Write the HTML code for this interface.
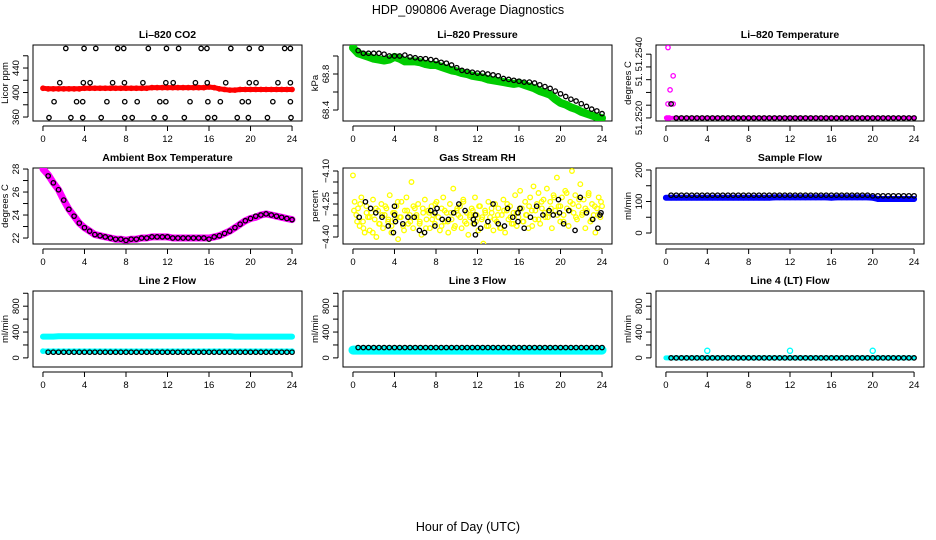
<!DOCTYPE html>
<html><head><meta charset="utf-8">
<style>
html,body{margin:0;padding:0;background:#fff;}
svg{display:block;font-family:"Liberation Sans",sans-serif;}
</style></head>
<body>
<svg id="chart" width="936" height="540" viewBox="0 0 936 540" xmlns="http://www.w3.org/2000/svg">
<text x="468" y="14" text-anchor="middle" font-size="12.5">HDP_090806  Average Diagnostics</text>
<text x="468" y="531" text-anchor="middle" font-size="12.5">Hour of Day (UTC)</text>
</svg>
<script>
// ---- data ----
const xTicks = [0,4,8,12,16,20,24];
const halfHours = [0,0.5,1,1.5,2,2.5,3,3.5,4,4.5,5,5.5,6,6.5,7,7.5,8,8.5,9,9.5,10,10.5,11,11.5,12,12.5,13,13.5,14,14.5,15,15.5,16,16.5,17,17.5,18,18.5,19,19.5,20,20.5,21,21.5,22,22.5,23,23.5,24];
const blackHours = [0.5,1,1.5,2,2.5,3,3.5,4,4.5,5,5.5,6,6.5,7,7.5,8,8.5,9,9.5,10,10.5,11,11.5,12,12.5,13,13.5,14,14.5,15,15.5,16,16.5,17,17.5,18,18.5,19,19.5,20,20.5,21,21.5,22,22.5,23,23.5,24];

const co2Red = [407,406,406,406,406,406,406,406,407,407,407,407,407,407,407,407,407,407,407,407,407,408,408,408,408,408,408,408,408,408,408,408,409,408,406,405,404,404,405,405,405,405,405,405,405,405,405,405,405];
const co2BlackHours = [2.2,3.96,5.09,7.2,7.78,10.15,11.9,13.07,15.24,15.8,18.1,19.88,21.02,23.29,23.84,
 1.62,3.89,4.54,6.71,7.85,9.63,11.84,12.55,14.69,15.83,17.61,19.88,20.53,22.64,23.84,
 1.07,3.24,3.83,6.16,7.88,9.08,11.26,11.84,14.17,15.89,17.09,19.2,19.79,22.15,23.84,
 0.58,2.69,3.83,5.61,7.88,8.6,10.7,11.77,13.62,15.89,16.54,18.72,19.79,21.63,23.9];
const co2BlackVals = [472,472,472,472,472,472,472,472,472,472,472,472,472,472,472,
 416,416,416,416,416,416,416,416,416,416,416,416,416,416,416,
 385,385,385,385,385,385,385,385,385,385,385,385,385,385,385,
 359,359,359,359,359,359,359,359,359,359,359,359,359,359,359];

const pressGreen = [69.09,69.03,69.01,68.99,68.97,68.96,68.95,68.96,68.99,68.97,68.94,68.94,68.94,68.93,68.91,68.90,68.90,68.88,68.86,68.84,68.83,68.81,68.80,68.78,68.77,68.76,68.74,68.73,68.72,68.71,68.70,68.69,68.70,68.68,68.66,68.64,68.61,68.59,68.57,68.52,68.48,68.46,68.43,68.41,68.38,68.36,68.34,68.32,68.31];
const pressBlack = [69.06,69.03,69.03,69.03,69.03,69.02,69.00,69.00,69.00,69.01,68.99,68.98,68.97,68.97,68.96,68.95,68.93,68.92,68.90,68.87,68.84,68.83,68.82,68.81,68.81,68.80,68.79,68.78,68.75,68.74,68.73,68.72,68.71,68.71,68.70,68.68,68.66,68.64,68.61,68.58,68.55,68.52,68.50,68.47,68.44,68.41,68.39,68.36];

const tempMag = [51.2520,51.2520,51.2520,51.2520,51.2520,51.2520,51.2520,51.2520,51.2520,51.2520,51.2520,51.2520,51.2520,51.2520,51.2520,51.2520,51.2520,51.2520,51.2520,51.2520,51.2520,51.2520,51.2520,51.2520,51.2520,51.2520,51.2520,51.2520,51.2520,51.2520,51.2520,51.2520,51.2520,51.2520,51.2520,51.2520,51.2520,51.2520,51.2520,51.2520,51.2520,51.2520,51.2520,51.2520,51.2520,51.2520,51.2520,51.2520,51.2520];
const tempOutHours = [0.2,0.7,0.4,0.2,0.5,0.7,0.1,0.3];
const tempOutVals = [51.25476,51.25365,51.2531,51.25255,51.25255,51.25255,51.2520,51.2520];
const tempBlack = [51.25255,51.2520,51.2520,51.2520,51.2520,51.2520,51.2520,51.2520,51.2520,51.2520,51.2520,51.2520,51.2520,51.2520,51.2520,51.2520,51.2520,51.2520,51.2520,51.2520,51.2520,51.2520,51.2520,51.2520,51.2520,51.2520,51.2520,51.2520,51.2520,51.2520,51.2520,51.2520,51.2520,51.2520,51.2520,51.2520,51.2520,51.2520,51.2520,51.2520,51.2520,51.2520,51.2520,51.2520,51.2520,51.2520,51.2520,51.2520];

const ambMag = [28.0,27.5,26.8,26.2,25.3,24.5,23.9,23.3,22.9,22.6,22.3,22.2,22.1,22.0,21.9,21.9,21.8,21.9,21.9,22.0,22.0,22.1,22.1,22.1,22.1,22.0,22.0,22.0,22.0,22.0,22.0,22.0,22.0,22.1,22.2,22.4,22.6,22.9,23.2,23.5,23.7,23.8,24.0,24.1,24.0,23.9,23.8,23.7,23.6];
const ambBlack = [27.4,26.8,26.2,25.3,24.5,23.9,23.3,22.9,22.6,22.3,22.2,22.1,22.0,21.9,21.9,21.8,21.9,21.9,22.0,22.0,22.1,22.1,22.1,22.1,22.0,22.0,22.0,22.0,22.0,22.0,22.0,21.9,22.1,22.2,22.4,22.6,22.9,23.2,23.5,23.7,23.9,24.0,24.1,24.0,23.9,23.8,23.7,23.6];

const rhYellow = [-4.12,-4.24,-4.30,-4.27,-4.35,-4.22,-4.33,-4.38,-4.26,-4.31,
-4.37,-4.29,-4.23,-4.32,-4.40,-4.28,-4.34,-4.25,-4.36,-4.30,
-4.27,-4.33,-4.21,-4.38,-4.29,-4.32,-4.26,-4.41,-4.31,-4.24,
-4.35,-4.28,-4.22,-4.34,-4.30,-4.15,-4.36,-4.27,-4.31,-4.25,
-4.33,-4.39,-4.29,-4.23,-4.32,-4.28,-4.36,-4.26,-4.30,-4.34,
-4.24,-4.31,-4.37,-4.27,-4.22,-4.33,-4.29,-4.38,-4.25,-4.32,
-4.18,-4.35,-4.28,-4.30,-4.26,-4.36,-4.23,-4.33,-4.29,-4.39,
-4.31,-4.27,-4.34,-4.22,-4.30,-4.37,-4.26,-4.32,-4.43,-4.28,
-4.35,-4.24,-4.31,-4.29,-4.37,-4.25,-4.33,-4.27,-4.36,-4.30,
-4.23,-4.38,-4.28,-4.32,-4.26,-4.34,-4.29,-4.21,-4.35,-4.31,
-4.19,-4.27,-4.33,-4.24,-4.30,-4.36,-4.22,-4.28,-4.17,-4.32,
-4.25,-4.20,-4.34,-4.27,-4.23,-4.31,-4.18,-4.29,-4.24,-4.36,
-4.21,-4.28,-4.13,-4.26,-4.33,-4.22,-4.30,-4.19,-4.27,-4.35,
-4.24,-4.10,-4.29,-4.21,-4.32,-4.26,-4.16,-4.30,-4.23,-4.36,
-4.28,-4.20,-4.33,-4.25,-4.30,-4.38,-4.27,-4.22,-4.31,-4.26];
const rhYellow2 = [-4.28,-4.33,-4.25,-4.36,-4.29,-4.31,-4.38,-4.27,-4.34,-4.30,
-4.26,-4.32,-4.35,-4.29,-4.24,-4.31,-4.37,-4.28,-4.33,-4.26,
-4.30,-4.34,-4.27,-4.36,-4.29,-4.32,-4.25,-4.31,-4.35,-4.28,
-4.33,-4.29,-4.36,-4.27,-4.31,-4.24,-4.34,-4.30,-4.28,-4.33,
-4.26,-4.31,-4.29,-4.35,-4.27,-4.32,-4.30,-4.36,-4.28,-4.25,
-4.31,-4.34,-4.29,-4.27,-4.33,-4.30,-4.26,-4.35,-4.28,-4.32,
-4.24,-4.29,-4.31,-4.27,-4.22,-4.30,-4.26,-4.33,-4.20,-4.28,
-4.25,-4.31,-4.23,-4.29,-4.27,-4.21,-4.32,-4.26,-4.30,-4.24];
const rhBlackHours = [0.6,1.2,1.7,2.2,2.8,3.4,3.9,4.0,4.0,4.1,4.8,5.3,5.9,6.4,6.9,7.5,7.9,7.9,8.1,8.6,9.2,9.7,10.2,10.8,11.6,11.7,11.8,11.8,12.3,13.0,13.5,14.0,14.6,14.9,15.4,15.9,15.9,16.1,16.5,17.1,17.7,18.3,18.9,19.3,19.8,19.9,20.3,20.8,21.4,21.9,22.5,23.1,23.6,23.8,23.9];
const rhBlackVals = [-4.31,-4.24,-4.27,-4.29,-4.31,-4.35,-4.38,-4.30,-4.26,-4.33,-4.34,-4.31,-4.31,-4.37,-4.38,-4.28,-4.35,-4.29,-4.27,-4.32,-4.32,-4.29,-4.25,-4.28,-4.32,-4.34,-4.39,-4.30,-4.36,-4.33,-4.25,-4.34,-4.35,-4.27,-4.31,-4.29,-4.33,-4.27,-4.36,-4.31,-4.26,-4.30,-4.28,-4.30,-4.23,-4.29,-4.34,-4.28,-4.37,-4.22,-4.29,-4.32,-4.36,-4.30,-4.29];

const sampleBlue = [112,112,112,112,112,112,112,112,112,112,112,112,112,112,112,112,112,112,112,112,112,113,113,113,113,113,113,113,113,113,113,113,112,113,113,113,113,113,113,113,112,108,108,108,108,108,108,108,108];
const sampleBlack = [120,120,120,120,120,120,120,120,120,120,120,120,120,120,120,120,120,120,120,120,120,120,120,120,120,120,120,120,120,120,120,120,120,120,120,120,120,120,120,118,118,118,118,118,118,118,118,118];

const line2High = [330,330,330,335,335,335,335,335,335,335,335,335,335,335,335,335,335,335,335,335,335,335,335,335,335,335,335,335,335,335,335,335,335,335,335,335,335,330,330,330,330,330,330,330,330,330,330,330,330];
const line2Low = [105,105,105,105,105,105,105,105,105,105,105,105,105,105,105,105,105,105,105,105,105,105,105,105,105,105,105,105,105,105,105,105,105,105,105,105,105,105,105,105,105,105,105,105,105,105,105,105,105];
const line2Black = [88,88,88,88,88,88,88,88,88,88,88,88,88,88,88,88,88,88,88,88,88,88,88,88,88,88,88,88,88,88,88,88,88,88,88,88,88,88,88,88,88,88,88,88,88,88,88,88];

const line3Cyan = [120,120,120,120,120,120,120,120,120,120,120,120,120,120,120,120,120,120,120,120,120,120,120,120,120,120,120,120,120,120,120,120,120,120,120,120,120,120,120,120,120,120,120,120,120,120,120,120,120];
const line3Black = [160,160,160,160,160,160,160,160,160,160,160,160,160,160,160,160,160,160,160,160,160,160,160,160,160,160,160,160,160,160,160,160,160,160,160,160,160,160,160,160,160,160,160,160,160,160,160,160];

const line4Cyan = [0,0,0,0,0,0,0,0,0,0,0,0,0,0,0,0,0,0,0,0,0,0,0,0,0,0,0,0,0,0,0,0,0,0,0,0,0,0,0,0,0,0,0,0,0,0,0,0,0];
const line4OutHours = [4,12,20];
const line4OutVals = [110,110,110];
const line4Black = [0,0,0,0,0,0,0,0,0,0,0,0,0,0,0,0,0,0,0,0,0,0,0,0,0,0,0,0,0,0,0,0,0,0,0,0,0,0,0,0,0,0,0,0,0,0,0,0];

const flowTicks = [0,200,400,600,800,1000];
const flowLabels = [0,400,800];

// ---- drawing ----
const svg = document.getElementById('chart');
const NS = 'http://www.w3.org/2000/svg';
function mk(tag, attrs, parent){
  const e = document.createElementNS(NS, tag);
  for (const k in attrs) e.setAttribute(k, attrs[k]);
  (parent||svg).appendChild(e);
  return e;
}
const colLeft = [33,343,656], colW = [269,269,268];
const rowTop = [45,168,291], boxH = 76;

function makePanel(name, col, row, title, ylab, yMin, yMax, yTicks, yLabels, yLabelText){
  const L = colLeft[col], T = rowTop[row], W = colW[col];
  const g = mk('g', {});
  
  
  const xs = v => L + W*(v + 0.96)/25.92;
  const ys = v => T + boxH - boxH*(v - yMin)/(yMax - yMin);
  const t = mk('text', {x: L + W/2, y: T - 7, 'text-anchor':'middle', 'font-size':10.5, 'font-weight':'bold'}, g);
  t.textContent = title;
  
  
  const box = mk('rect', {x:L, y:T, width:W, height:boxH, fill:'none', stroke:'#000', 'stroke-width':1}, g);
  
  
  const xa = mk('g', {}, g);
  
  
  mk('line', {x1:xs(0), x2:xs(24), y1:T+boxH+5, y2:T+boxH+5, stroke:'#000'}, xa);
  xTicks.forEach(v => {
    mk('line', {x1:xs(v), x2:xs(v), y1:T+boxH+5, y2:T+boxH+10, stroke:'#000'}, xa);
    const tl = mk('text', {x:xs(v), y:T+boxH+21, 'text-anchor':'middle', 'font-size':9.5}, xa);
    tl.textContent = v;
  });
  const ya = mk('g', {}, g);
  
  
  const ax = L - 5;
  mk('line', {x1:ax, x2:ax, y1:ys(yTicks[0]), y2:ys(yTicks[yTicks.length-1]), stroke:'#000'}, ya);
  yTicks.forEach(v => mk('line', {x1:ax-5, x2:ax, y1:ys(v), y2:ys(v), stroke:'#000'}, ya));
  yLabels.forEach((v,i) => {
    const yy = ys(v);
    const tl = mk('text', {x:L-14, y:yy, 'text-anchor':'middle', 'font-size':9.5, transform:`rotate(-90 ${L-14} ${yy})`}, ya);
    tl.textContent = yLabelText ? yLabelText[i] : v;
  });
  const yt = mk('text', {x:L-25, y:T+boxH/2, 'text-anchor':'middle', 'font-size':9.5, transform:`rotate(-90 ${L-25} ${T+boxH/2})`}, g);
  yt.textContent = ylab;
  
  
  const clipId = 'c' + name;
  const cp = mk('clipPath', {id:clipId}, g);
  mk('rect', {x:L, y:T, width:W, height:boxH}, cp);
  const marks = mk('g', {'clip-path':`url(#${clipId})`}, g);
  return {xs, ys, g: marks};
}
function band(p, name, hours, vals, color, width){
  const pts = hours.map((h,i) => p.xs(h).toFixed(1)+','+p.ys(vals[i]).toFixed(1)).join(' ');
  const pl = mk('polyline', {points:pts, fill:'none', stroke:color, 'stroke-width':width, 'stroke-linejoin':'round', 'stroke-linecap':'round'}, p.g);
  
  
}
function pts(p, name, hours, vals, color, r){
  const gg = mk('g', {}, p.g);
  
  
  hours.forEach((h,i) => {
    mk('circle', {cx:p.xs(h), cy:p.ys(vals[i]), r:r||2.2, fill:'none', stroke:color, 'stroke-width':1.3}, gg);
  });
}

// Panel 1: CO2
let p = makePanel('co2', 0, 0, 'Li\u2013820 CO2', 'Licor ppm', 353.5, 477.6, [360,380,400,420,440,460], [360,400,440]);
band(p, 'co2-red-band', halfHours, co2Red, '#ff0000', 5);
pts(p, 'co2-red-points', halfHours, co2Red, '#ff0000');
pts(p, 'co2-black-points', co2BlackHours, co2BlackVals, '#000');

// Panel 2: Pressure
p = makePanel('pressure', 1, 0, 'Li\u2013820 Pressure', 'kPa', 68.278, 69.122, [68.4,68.6,68.8,69.0], [68.4,68.8]);
band(p, 'pressure-green-band', halfHours, pressGreen, '#00cc00', 8);
pts(p, 'pressure-green-points', halfHours, pressGreen, '#00cc00');
pts(p, 'pressure-black-points', blackHours, pressBlack, '#000');

// Panel 3: Li-820 temperature
p = makePanel('li820-temp', 2, 0, 'Li\u2013820 Temperature', 'degrees C', 51.25188, 51.25486, [51.2520,51.2525,51.2530,51.2535,51.2540,51.2545], [51.2520,51.2535,51.2545], ['51.2520','51.','51.2540']);
band(p, 'li820-temp-magenta-band', halfHours, tempMag, '#ff00ff', 4);
pts(p, 'li820-temp-magenta-outliers', tempOutHours, tempOutVals, '#ff00ff');
pts(p, 'li820-temp-black-points', blackHours, tempBlack, '#000');

// Panel 4: Ambient box temperature
p = makePanel('ambient-temp', 0, 1, 'Ambient Box Temperature', 'degrees C', 21.48, 28.09, [22,23,24,25,26,27,28], [22,24,26,28]);
band(p, 'ambient-magenta-band', halfHours, ambMag, '#ff00ff', 7);
pts(p, 'ambient-magenta-points', halfHours, ambMag, '#ff00ff');
pts(p, 'ambient-black-points', blackHours, ambBlack, '#000');

// Panel 5: Gas stream RH
p = makePanel('gas-rh', 1, 1, 'Gas Stream RH', 'percent', -4.4318, -4.0864, [-4.40,-4.35,-4.30,-4.25,-4.20,-4.15,-4.10], [-4.40,-4.25,-4.10], ['\u22124.40','\u22124.25','\u22124.10']);
const rhHours = rhYellow.map((v,i) => i*24/(rhYellow.length-1));
const rhHours2 = rhYellow2.map((v,i) => 0.1 + i*23.8/(rhYellow2.length-1));
pts(p, 'rh-yellow-points', rhHours, rhYellow, '#ffff00', 2.3);
pts(p, 'rh-yellow-points-2', rhHours2, rhYellow2, '#ffff00', 2.3);
pts(p, 'rh-black-points', rhBlackHours, rhBlackVals, '#000');

// Panel 6: Sample flow
p = makePanel('sample-flow', 2, 1, 'Sample Flow', 'ml/min', -34.9, 206.3, [0,50,100,150,200], [0,100,200]);
band(p, 'sample-blue-band', halfHours, sampleBlue, '#0000ff', 6);
pts(p, 'sample-blue-points', halfHours, sampleBlue, '#0000ff');
pts(p, 'sample-black-points', blackHours, sampleBlack, '#000');

// Panel 7: Line 2 flow
p = makePanel('line2-flow', 0, 2, 'Line 2 Flow', 'ml/min', -141, 1035, flowTicks, flowLabels);
band(p, 'line2-cyan-high-band', halfHours, line2High, '#00ffff', 6);
band(p, 'line2-cyan-low-band', halfHours, line2Low, '#00ffff', 5);
pts(p, 'line2-cyan-low-points', halfHours, line2Low, '#00ffff');
pts(p, 'line2-black-points', blackHours, line2Black, '#000');

// Panel 8: Line 3 flow
p = makePanel('line3-flow', 1, 2, 'Line 3 Flow', 'ml/min', -141, 1035, flowTicks, flowLabels);
band(p, 'line3-cyan-band', halfHours, line3Cyan, '#00ffff', 9);
pts(p, 'line3-black-points', blackHours, line3Black, '#000');

// Panel 9: Line 4 flow
p = makePanel('line4-flow', 2, 2, 'Line 4 (LT) Flow', 'ml/min', -141, 1035, flowTicks, flowLabels);
band(p, 'line4-cyan-band', halfHours, line4Cyan, '#00ffff', 5);
pts(p, 'line4-cyan-outliers', line4OutHours, line4OutVals, '#00ffff', 2.6);
pts(p, 'line4-black-points', blackHours, line4Black, '#000');
</script>
</body></html>
